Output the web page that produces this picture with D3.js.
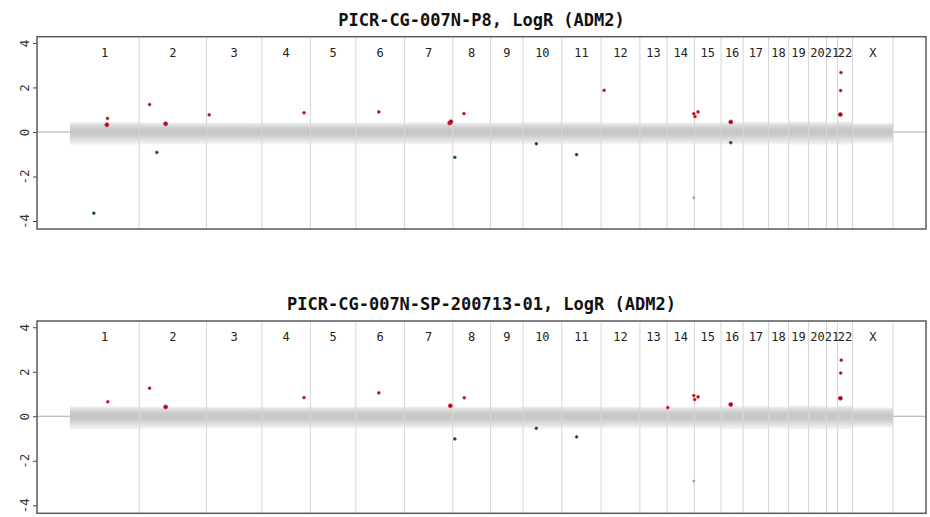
<!DOCTYPE html>
<html><head><meta charset="utf-8">
<script src="https://cdn.jsdelivr.net/npm/d3@7"></script>
<style>
body{margin:0;background:#fff}
svg{display:block}
text{font-family:"DejaVu Sans Mono","Liberation Mono",monospace}
</style></head>
<body><svg id="c" width="930" height="517"></svg>
<script>
// ---------- data ----------
const chromNames = ["1","2","3","4","5","6","7","8","9","10","11","12","13","14","15","16","17","18","19","20","21","22","X"];
// markers per chromosome (thousands), read from chromosome widths
const chromProbes = [229,222,183,160,150,161,159,125,107,128,130,128,90,90,88,73,84,66,66,59,37,49,134];
// spread of the probe-level LogR cloud per chromosome (outer envelope)
const bandUpper = [0.45,0.43,0.42,0.42,0.42,0.43,0.44,0.42,0.42,0.45,0.44,0.43,0.42,0.42,0.43,0.45,0.46,0.44,0.48,0.47,0.45,0.48,0.40];
const bandLower = [-0.58,-0.56,-0.55,-0.55,-0.55,-0.56,-0.56,-0.55,-0.55,-0.56,-0.56,-0.55,-0.55,-0.56,-0.56,-0.57,-0.58,-0.56,-0.58,-0.58,-0.57,-0.58,-0.52];
const yTicks = [-4,-2,0,2,4];
const titles = ["PICR-CG-007N-P8, LogR (ADM2)", "PICR-CG-007N-SP-200713-01, LogR (ADM2)"];
// aberrant segments: [genomic index (k markers), LogR, call, markers]
const segmentsP8 = [
  [124,0.61,"gain",1],[122,0.32,"gain",3],[263,1.23,"gain",1],[316,0.37,"gain",3],
  [287,-0.92,"loss",1],[79,-3.65,"loss",1],[460,0.77,"gain",1],[773,0.86,"gain",1],
  [1020,0.90,"gain",1],[1254,0.40,"gain",3],[1258,0.46,"gain",2],[1301,0.82,"gain",1],
  [1271,-1.14,"loss",1],[1540,-0.53,"loss",1],[1673,-1.02,"loss",1],[1764,1.87,"gain",1],
  [2060,0.82,"gain",1],[2064,0.69,"gain",1],[2074,0.90,"gain",1],[2060,-2.96,"other",1],
  [2182,0.45,"gain",3],[2182,-0.48,"loss",1],[2546,2.67,"gain",1],[2545,1.86,"gain",1],[2544,0.78,"gain",3]
];
const segmentsSP = [
  [125,0.65,"gain",1],[263,1.26,"gain",1],[316,0.42,"gain",3],[773,0.84,"gain",1],
  [1020,1.05,"gain",1],[1256,0.47,"gain",3],[1302,0.83,"gain",1],[1271,-1.02,"loss",1],
  [1540,-0.54,"loss",1],[1673,-0.93,"loss",1],[1974,0.39,"gain",1],[2060,0.93,"gain",1],
  [2063,0.75,"gain",1],[2074,0.87,"gain",1],[2060,-2.91,"other",1],[2182,0.53,"gain",3],
  [2547,2.52,"gain",1],[2545,1.94,"gain",1],[2544,0.81,"gain",3]
];

// ---------- layout ----------
const svg = d3.select("#c");
const L = 37, R = 926, H = 192.3;
const panelTops = [36.7, 321];
const total = d3.sum(chromProbes);
const cum = [0]; chromProbes.forEach((v,i)=>cum.push(cum[i]+v));
const pad = total*0.04;
const x = d3.scaleLinear().domain([-pad, total+pad]).range([L, R]);

const defs = svg.append("defs");
const grad = defs.append("linearGradient").attr("id","band").attr("x1",0).attr("y1",0).attr("x2",0).attr("y2",1);
[[0,"#f4f4f4"],[0.12,"#dedede"],[0.3,"#cbcbcb"],[0.45,"#c5c5c5"],[0.6,"#cdcdcd"],[0.8,"#e1e1e1"],[1,"#f6f6f6"]]
  .forEach(([o,c])=>grad.append("stop").attr("offset",o).attr("stop-color",c));

const fills = {gain:"#8a1020", loss:"#16302e", other:"#8a8080"};
const strokes = {gain:"#e8283f", loss:"#2f7a70", other:"#c0a8a8"};

[segmentsP8, segmentsSP].forEach((segs, p) => {
  const top = panelTops[p], bottom = top + H;
  const y = d3.scaleLinear().domain([-4.36, 4.28]).range([bottom, top]);
  const g = svg.append("g");

  // title
  g.append("text").attr("x",(L+R)/2).attr("y",top-11).attr("text-anchor","middle")
    .attr("font-size",17).attr("font-weight","bold").attr("fill","#111").text(titles[p]);

  // zero line
  g.append("line").attr("x1",L).attr("x2",R).attr("y1",y(0)).attr("y2",y(0))
    .attr("stroke","#a9a9a9").attr("stroke-width",1);

  // probe cloud
  g.selectAll("rect.band").data(chromProbes).join("rect").attr("class","band")
    .attr("x",(d,i)=>x(cum[i])).attr("width",(d,i)=>x(cum[i+1])-x(cum[i]))
    .attr("y",(d,i)=>y(bandUpper[i])).attr("height",(d,i)=>y(bandLower[i])-y(bandUpper[i]))
    .attr("fill","url(#band)");

  // chromosome boundaries
  g.selectAll("line.chr").data(chromProbes).join("line").attr("class","chr")
    .attr("x1",(d,i)=>x(cum[i+1])).attr("x2",(d,i)=>x(cum[i+1]))
    .attr("y1",top).attr("y2",bottom).attr("stroke","#d6d6d6").attr("stroke-width",1);

  // chromosome labels
  g.selectAll("text.chr").data(chromNames).join("text").attr("class","chr")
    .attr("x",(d,i)=>x((cum[i]+cum[i+1])/2)).attr("y",top+20)
    .attr("text-anchor","middle").attr("font-size",12).attr("fill","#222").text(d=>d);

  // segments
  g.selectAll("circle").data(segs).join("circle")
    .attr("cx",d=>x(d[0])).attr("cy",d=>y(d[1]))
    .attr("r",d=>d[2]==="other"?1.1:(d[3]>1?2.0:1.4))
    .attr("fill",d=>fills[d[2]]).attr("stroke",d=>strokes[d[2]]).attr("stroke-width",0.8);

  // y axis
  const ax = g.append("g").attr("transform",`translate(${L},0)`)
    .call(d3.axisLeft(y).tickValues(yTicks).tickSize(4).tickFormat(d3.format("d")));
  ax.select(".domain").remove();
  ax.selectAll(".tick line").attr("stroke","#444");
  ax.selectAll(".tick text").attr("font-family","DejaVu Sans Mono").attr("font-size",12.5).attr("fill","#333")
    .attr("text-anchor","middle").attr("dy",null).attr("dominant-baseline","central")
    .attr("x",null).attr("transform","translate(-13,0) rotate(-90)")
    .text(d=>d<0?"-"+Math.abs(d):String(d));

  // frame
  g.append("rect").attr("x",L).attr("y",top).attr("width",R-L).attr("height",H)
    .attr("fill","none").attr("stroke","#5a5a5a").attr("stroke-width",1.5);
});
</script></body></html>
